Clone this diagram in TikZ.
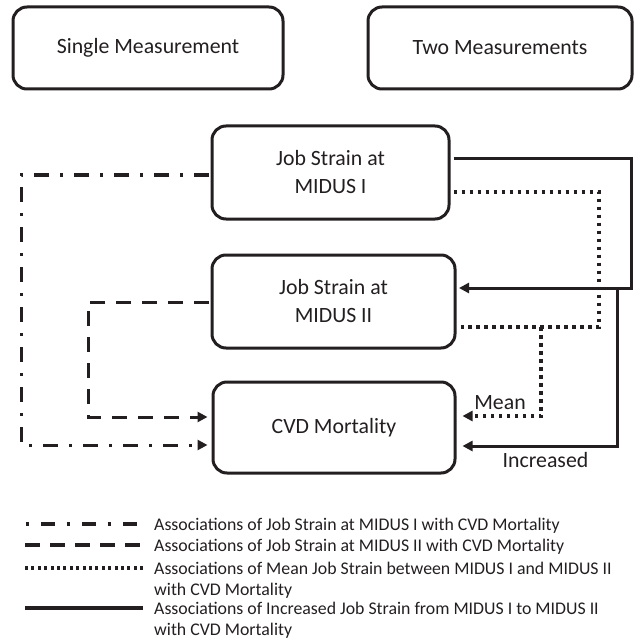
\documentclass[tikz,border=0pt]{standalone}
\usepackage{fontspec}
\setmainfont{Carlito}
\usetikzlibrary{arrows.meta,calc}
\definecolor{ink}{HTML}{231F20}
\begin{document}
\begin{tikzpicture}[x=1pt,y=-1pt,
  box/.style={draw=ink,line width=3pt,rounded corners=14pt,inner sep=0pt,align=center,
    text=ink,font=\fontsize{21.8}{28}\selectfont},
  lbl/.style={text=ink,font=\fontsize{21.8}{28}\selectfont,inner sep=0pt},
  leg/.style={text=ink,font=\fontsize{17.8}{21.5}\selectfont,inner sep=0pt,align=left},
  conn/.style={draw=ink,line width=3pt},
  tip/.style={-{Triangle[length=10pt,width=10pt]}},
  ddot/.style={conn,dash pattern=on 15pt off 11pt on 3pt off 11pt},
  ddash/.style={conn,dash pattern=on 15pt off 11pt},
  dotl/.style={conn,line width=3.5pt,dash pattern=on 3.5pt off 4.5pt},
  solidl/.style={conn}
]
\useasboundingbox (0,0) rectangle (637,639);

% boxes
\node[box,minimum width=270pt,minimum height=82pt] (single) at (148,48) {Single Measurement};
\node[box,minimum width=264pt,minimum height=82pt] (two) at (500,48) {Two Measurements};
\node[box,minimum width=237pt,minimum height=93pt] (m1) at (330.5,172.5) {Job Strain at\\MIDUS I};
\node[box,minimum width=243pt,minimum height=93pt] (m2) at (333.5,301.5) {Job Strain at\\MIDUS II};
\node[box,minimum width=242pt,minimum height=91pt] (cvd) at (334,427.5) {CVD Mortality};

% dash-dot: MIDUS I -> CVD
\draw[ddot,tip] ($(m1.west)+(-1.5,2.5)$) -| (21,445) -- ($(cvd.west)+(-4,17.5)$);
% dashed: MIDUS II -> CVD
\draw[ddash,tip] ($(m2.west)+(-1.5,0.5)$) -| (88,417) -- ($(cvd.west)+(-4,-10.5)$);
% dotted: mean
\coordinate (dj) at (541,327);
\draw[dotl] ($(m1.east)+(3,19.5)$) -| (599,327) -- ($(m2.east)+(4,25.5)$);
\draw[dotl,tip] (dj) |- ($(cvd.east)+(6,-11.5)$);
% solid: increased
\coordinate (sj) at (617,288);
\draw[solidl,tip] ($(m1.east)+(3,-13.5)$) -| (631,288) -- ($(m2.east)+(2.5,-13.5)$);
\draw[solidl,tip] (sj) |- ($(cvd.east)+(6,18.5)$);

\node[lbl,anchor=base] (mean) at (500,409) {Mean};
\node[lbl,anchor=base] (incr) at (545.5,467) {Increased};

% legend
\coordinate (a1) at (25.5,524); \coordinate (b1) at (143,524);
\coordinate (a2) at (25,545); \coordinate (b2) at (143,545);
\coordinate (a3) at (25,568); \coordinate (b3) at (143,568);
\coordinate (a4) at (25,608); \coordinate (b4) at (143,608);
\draw[ddot,line width=3.5pt,dash pattern=on 3pt off 12.5pt on 13.5pt off 12pt] (a1) -- (b1);
\draw[ddash,line width=3.5pt,dash pattern=on 15pt off 10pt] (a2) -- (b2);
\draw[dotl,dash pattern=on 3pt off 3.4pt] (a3) -- (b3);
\draw[solidl,line width=3.5pt] (a4) -- (b4);
\node[leg,anchor=base west] (l1) at (154,530) {Associations of Job Strain at MIDUS I with CVD Mortality};
\node[leg,anchor=base west] (l2) at (154,551) {Associations of Job Strain at MIDUS II with CVD Mortality};
\node[leg,anchor=base west] (l3) at (154,574) {Associations of Mean Job Strain between MIDUS I and MIDUS II};
\node[leg,anchor=base west] (l3b) at (154,595.5) {with CVD Mortality};
\node[leg,anchor=base west] (l4) at (154,614) {Associations of Increased Job Strain from MIDUS I to MIDUS II};
\node[leg,anchor=base west] (l4b) at (154,635) {with CVD Mortality};
\end{tikzpicture}
\end{document}
